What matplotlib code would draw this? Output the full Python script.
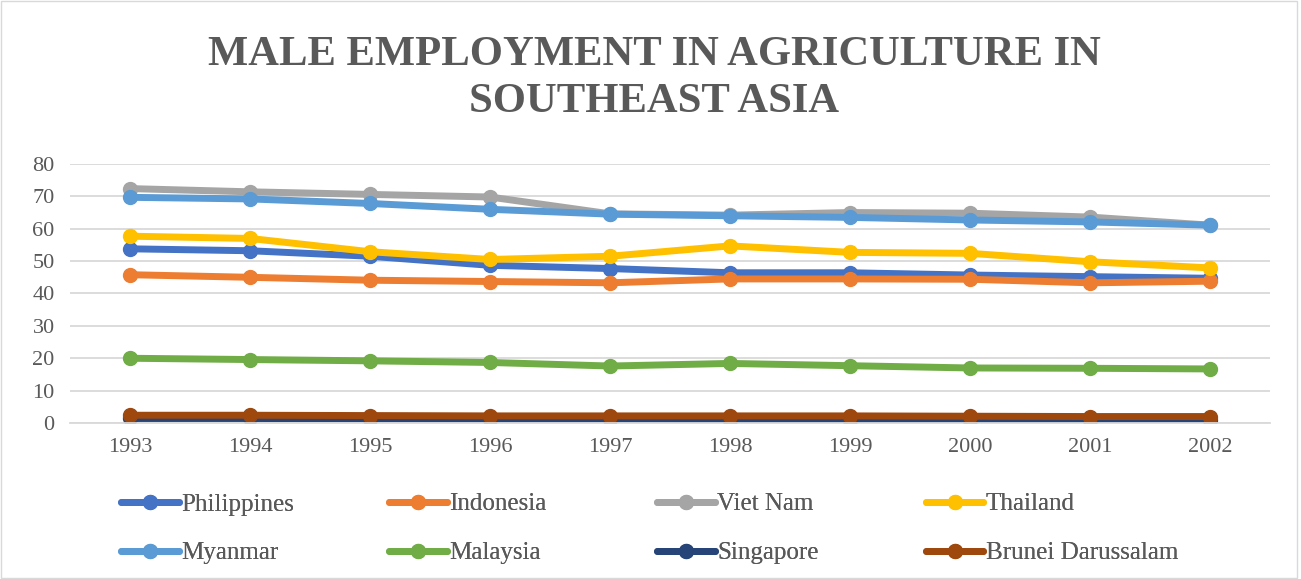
import matplotlib.pyplot as plt
from matplotlib.patches import Rectangle

years = ['1993', '1994', '1995', '1996', '1997', '1998', '1999', '2000', '2001', '2002']
philippines = [53.8, 53.2, 51.5, 48.7, 47.7, 46.4, 46.4, 45.7, 45.2, 44.7]
indonesia = [45.8, 45.0, 44.1, 43.7, 43.3, 44.5, 44.5, 44.4, 43.3, 43.8]
viet_nam = [72.4, 71.4, 70.6, 69.8, 64.6, 64.2, 65.0, 64.8, 63.6, 61.1]
thailand = [57.7, 57.0, 52.9, 50.5, 51.5, 54.7, 52.7, 52.4, 49.8, 47.9]
myanmar = [69.7, 69.2, 67.8, 66.0, 64.5, 64.0, 63.5, 62.7, 62.1, 61.1]
malaysia = [20.0, 19.6, 19.2, 18.7, 17.6, 18.4, 17.7, 17.0, 16.9, 16.7]
singapore = [1.4, 1.4, 1.3, 1.2, 1.2, 1.0, 1.0, 1.0, 0.9, 0.9]
brunei = [2.4, 2.4, 2.3, 2.2, 2.2, 2.2, 2.2, 2.1, 2.0, 2.0]

series = [('Philippines', philippines, '#4472C4'),
          ('Indonesia', indonesia, '#ED7D31'),
          ('Viet Nam', viet_nam, '#A5A5A5'),
          ('Thailand', thailand, '#FFC000'),
          ('Myanmar', myanmar, '#5B9BD5'),
          ('Malaysia', malaysia, '#70AD47'),
          ('Singapore', singapore, '#264478'),
          ('Brunei Darussalam', brunei, '#9E480E')]

plt.rcParams['font.family'] = ['Liberation Serif', 'DejaVu Serif']
txt = '#595959'

fig = plt.figure(figsize=(13.01, 5.79), dpi=100)
ax = fig.add_axes([0.0538, 0.2694, 0.9224, 0.4474])

x = list(range(len(years)))
lines = []
for name, vals, c in series:
    l, = ax.plot(x, vals, color=c, lw=5, marker='o', ms=10, label=name,
                 solid_capstyle='round')
    lines.append(l)

ax.set_xlim(-0.5, len(years) - 0.5)
ax.set_ylim(0, 80)
ax.set_yticks(range(0, 81, 10))
ax.set_xticks(x)
ax.set_xticklabels(years)
ax.grid(axis='y', color='#D9D9D9', lw=1.3)
ax.set_axisbelow(True)
for s in ['top', 'right', 'left']:
    ax.spines[s].set_visible(False)
ax.spines['bottom'].set_color('#D9D9D9')
ax.spines['bottom'].set_linewidth(1.3)
ax.tick_params(length=0, labelsize=16, colors=txt, pad=11)

fig.suptitle('MALE EMPLOYMENT IN AGRICULTURE IN\nSOUTHEAST ASIA', x=0.503, y=0.938,
             va='top', fontsize=30.7, fontweight='bold', color=txt, linespacing=1.3)

# one legend per column, row-major order like the reference
col_x = [121, 389, 657, 926]
for i, px in enumerate(col_x):
    leg = fig.legend(handles=[lines[i], lines[i + 4]], loc='upper left',
                     bbox_to_anchor=(px / 1301, 1 - 493 / 579), frameon=False,
                     fontsize=18, handlelength=2.3, handletextpad=0.1,
                     labelspacing=1.05, borderpad=0, borderaxespad=0)
    for t in leg.get_texts():
        t.set_color(txt)
    fig.add_artist(leg)

fig.patches.append(Rectangle((0.001, 0.002), 0.996, 0.996, transform=fig.transFigure,
                             fill=False, edgecolor='#D9D9D9', lw=1))

fig.savefig('out.png', dpi=100)
